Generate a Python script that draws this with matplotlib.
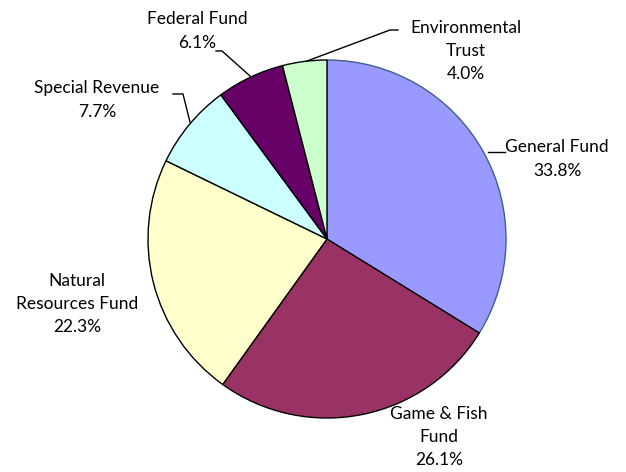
import matplotlib
matplotlib.use("Agg")
import matplotlib.pyplot as plt

categories = ["General Fund", "Game & Fish Fund", "Natural Resources Fund",
              "Special Revenue", "Federal Fund", "Environmental Trust"]
values = [33.8, 26.1, 22.3, 7.7, 6.1, 4.0]
label_texts = ["General Fund\n33.8%", "Game & Fish\nFund\n26.1%", "Natural\nResources Fund\n22.3%",
               "Special Revenue\n7.7%", "Federal Fund\n6.1%", "Environmental\nTrust\n4.0%"]
colors = ["#9999FF", "#993366", "#FFFFCC", "#CCFFFF", "#660066", "#CCFFCC"]
edgecolors = ["#3F5F8F", "black", "black", "black", "black", "black"]

W, H = 626, 472
fig = plt.figure(figsize=(W / 100, H / 100), dpi=100)
ax = fig.add_axes([0, 0, 1, 1])

cx, cy, r = 327, H - 239, 179
wedges, _ = ax.pie(values, colors=colors, startangle=90, counterclock=False,
                   center=(cx, cy), radius=r, frame=True,
                   wedgeprops=dict(linewidth=1.0))
for w, ec in zip(wedges, edgecolors):
    w.set_edgecolor(ec)
ax.set_xlim(0, W)
ax.set_ylim(0, H)
ax.set_aspect("equal")
ax.axis("off")

font = dict(family=["Lato", "DejaVu Sans"], fontsize=12.5, color="black",
            ha="center", va="center", linespacing=1.55)
# label positions (pixel coordinates, top-left origin)
pos = [(557, 159), (439, 437), (77, 304), (97, 100), (197, 31), (466, 51)]
for (x, y), t in zip(pos, label_texts):
    ax.text(x, H - y, t, **font)

leaders = [
    [(488, 152), (505, 152)],
    [(216, 51), (222, 51), (250, 76)],
    [(398, 30), (390, 30), (307, 61)],
    [(173, 94), (183, 94), (190, 122)],
]
for pts in leaders:
    xs = [p[0] for p in pts]
    ys = [H - p[1] for p in pts]
    ax.plot(xs, ys, color="black", linewidth=1.0)

fig.savefig("out.png", dpi=100)
